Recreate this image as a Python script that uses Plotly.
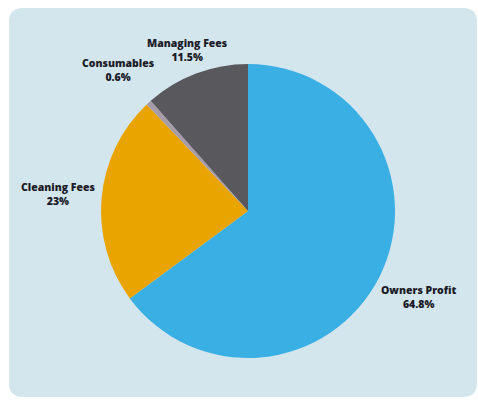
import math
import plotly.graph_objects as go

labels = ["Owners Profit", "Cleaning Fees", "Consumables", "Managing Fees"]
values = [64.8, 23, 0.6, 11.5]
pct_text = ["64.8%", "23%", "0.6%", "11.5%"]
colors = ["#3aafe3", "#eaa400", "#a99ca9", "#59585d"]
label_dist = [1.30, 1.30, 1.30, 1.17]  # radial distance of label centres (in radii)

W, H = 478, 400
CX, CY, R = 248, 211, 147

fig = go.Figure()
fig.add_trace(go.Pie(
    labels=labels, values=values, sort=False, direction="clockwise", rotation=0,
    marker=dict(colors=colors, line=dict(width=0)),
    textinfo="none", showlegend=False, hoverinfo="skip",
    domain=dict(x=[(CX - R) / W, (CX + R) / W], y=[1 - (CY + R) / H, 1 - (CY - R) / H]),
))

total = sum(values)
cum = 0
annotations = []
for lab, v, t, k in zip(labels, values, pct_text, label_dist):
    mid = (cum + v / 2) / total * 2 * math.pi
    cum += v
    px = CX + k * R * math.sin(mid)
    py = CY - k * R * math.cos(mid)
    annotations.append(dict(
        x=px / W, y=1 - py / H, xref="paper", yref="paper", showarrow=False,
        text=f"{lab}<br>{t}", align="center",
        font=dict(family="Open Sans", size=10.5, color="#1c1c28", weight=800),
        xanchor="center", yanchor="middle",
    ))

# rounded panel background
x0, y0, x1, y1, r = 9, 8, 477, 397, 14
def P(x, y):
    return f"{x / W:.5f},{1 - y / H:.5f}"
path = (f"M{P(x0+r, y0)} L{P(x1-r, y0)} Q{P(x1, y0)} {P(x1, y0+r)} L{P(x1, y1-r)} "
        f"Q{P(x1, y1)} {P(x1-r, y1)} L{P(x0+r, y1)} Q{P(x0, y1)} {P(x0, y1-r)} "
        f"L{P(x0, y0+r)} Q{P(x0, y0)} {P(x0+r, y0)} Z")

fig.update_layout(
    width=W, height=H, margin=dict(l=0, r=0, t=0, b=0),
    paper_bgcolor="white", plot_bgcolor="white",
    shapes=[dict(type="path", path=path, xref="paper", yref="paper", layer="below",
                 fillcolor="#d3e6ee", line=dict(width=0))],
    annotations=annotations,
)
fig.write_html("out.html")
